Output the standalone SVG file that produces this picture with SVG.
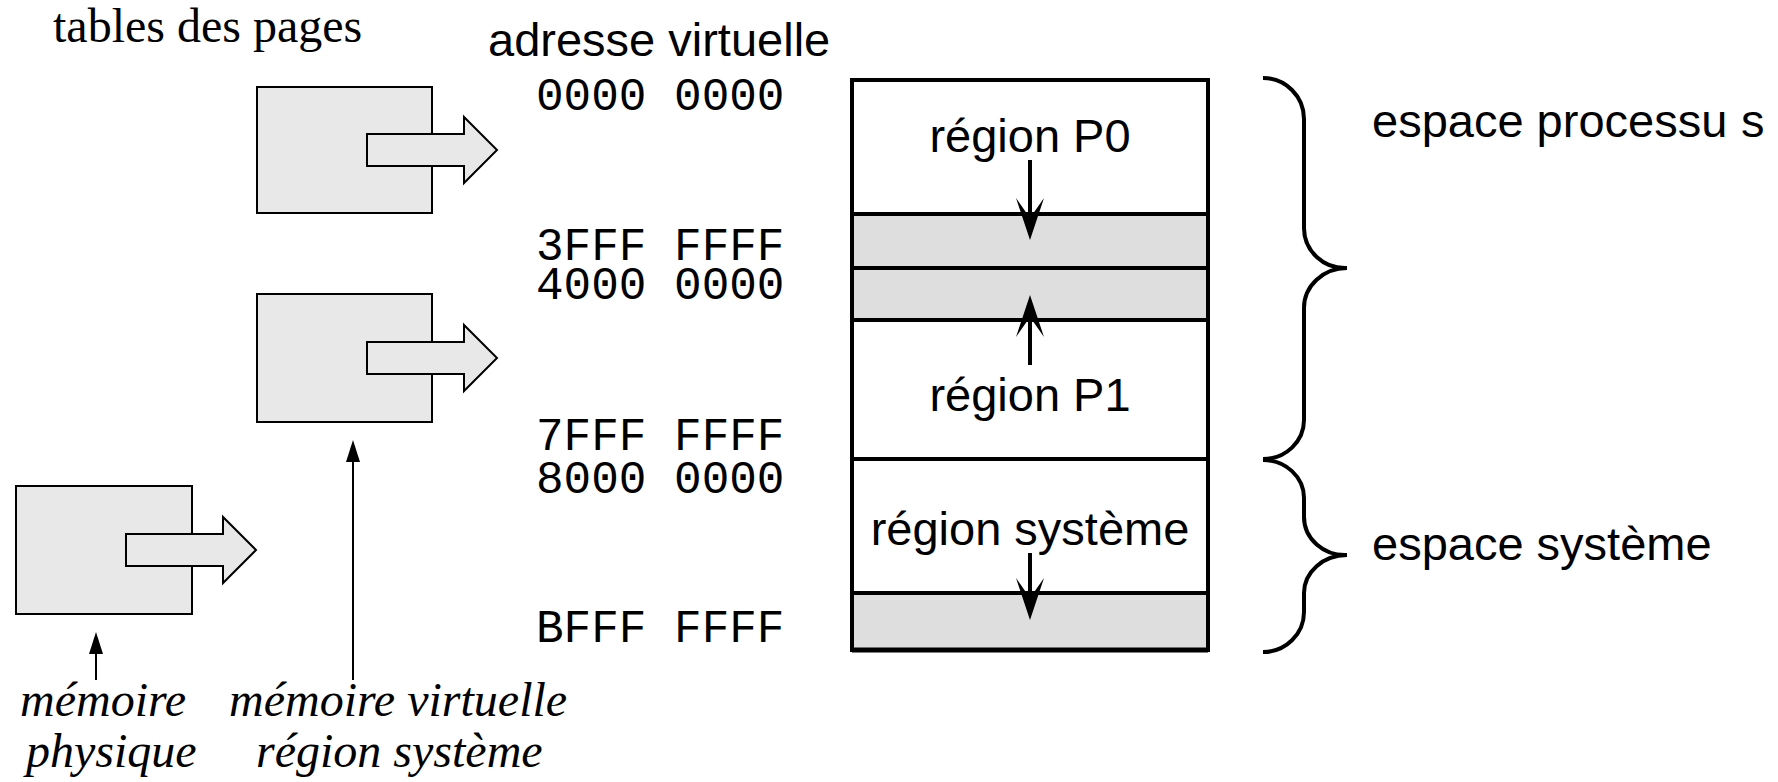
<svg xmlns="http://www.w3.org/2000/svg" width="1778" height="782" viewBox="0 0 1778 782">
  <style>
    .serif { font-family: "Liberation Serif", "Times New Roman", serif; font-size: 48px; fill: #000; }
    .ital { font-family: "Liberation Serif", "Times New Roman", serif; font-style: italic; font-size: 48px; fill: #000; }
    .sans { font-family: "Liberation Sans", Arial, sans-serif; font-size: 47px; fill: #000; }
    .mono { font-family: "Liberation Mono", "Courier New", monospace; font-size: 46px; fill: #000; }
    .table { fill: #e8e8e8; stroke: #000; stroke-width: 2; }
    .band { fill: #dedede; stroke: none; }
    .frame { fill: none; stroke: #000; stroke-width: 4; }
    .sep { stroke: #000; stroke-width: 4; }
    .grow { stroke: #000; stroke-width: 4; fill: none; }
    .ptr { stroke: #000; stroke-width: 2; fill: none; }
    .brace { fill: none; stroke: #000; stroke-width: 4; stroke-linecap: butt; }
  </style>
  <defs>
    <!-- barbed head for the growth arrows inside the address map -->
    <marker id="barb" viewBox="0 0 42 28" refX="20" refY="14" markerWidth="42" markerHeight="28" markerUnits="userSpaceOnUse" orient="auto">
      <path d="M0,0 L42,14 L0,28 L20,14 z" fill="#000"/>
    </marker>
    <!-- small solid head for the label pointers -->
    <marker id="tri" viewBox="0 0 22 14" refX="0" refY="7" markerWidth="22" markerHeight="14" markerUnits="userSpaceOnUse" orient="auto">
      <path d="M0,0 L22,7 L0,14 z" fill="#000"/>
    </marker>
  </defs>

  <rect width="1778" height="782" fill="#fff"/>

  <!-- headings -->
  <text class="serif" x="53" y="42">tables des pages</text>
  <text class="sans" x="488" y="56">adresse virtuelle</text>

  <!-- page tables -->
  <g id="table-p0">
    <rect class="table" x="257" y="87" width="175" height="126"/>
    <polygon class="table" points="367,134 464,134 464,117 497,150 464,183 464,166 367,166"/>
  </g>
  <g id="table-p1">
    <rect class="table" x="257" y="294" width="175" height="128"/>
    <polygon class="table" points="367,342 464,342 464,325 497,358 464,391 464,374 367,374"/>
  </g>
  <g id="table-system">
    <rect class="table" x="16" y="486" width="176" height="128"/>
    <polygon class="table" points="126,534 223,534 223,517 256,550 223,583 223,566 126,566"/>
  </g>

  <!-- address column -->
  <g id="addresses">
    <text class="mono" x="536" y="110">0000 0000</text>
    <text class="mono" x="536" y="260">3FFF FFFF</text>
    <text class="mono" x="536" y="299">4000 0000</text>
    <text class="mono" x="536" y="450">7FFF FFFF</text>
    <text class="mono" x="536" y="493">8000 0000</text>
    <text class="mono" x="536" y="642">BFFF FFFF</text>
  </g>

  <!-- virtual address space map -->
  <g id="address-map">
    <rect class="band" x="852" y="214" width="356" height="106"/>
    <rect class="band" x="852" y="593" width="356" height="57"/>
    <line class="sep" x1="852" y1="214" x2="1208" y2="214"/>
    <line class="sep" x1="852" y1="268" x2="1208" y2="268"/>
    <line class="sep" x1="852" y1="320" x2="1208" y2="320"/>
    <line class="sep" x1="852" y1="459" x2="1208" y2="459"/>
    <line class="sep" x1="852" y1="593" x2="1208" y2="593"/>
    <rect class="frame" x="852" y="80" width="356" height="570"/>
    <line x1="852" y1="650" x2="1208" y2="650" stroke="#000" stroke-width="5"/>
  </g>
  <g id="region-p0">
    <text class="sans" x="1030" y="152" text-anchor="middle">région P0</text>
  </g>
  <g id="region-p1">
    <text class="sans" x="1030" y="411" text-anchor="middle">région P1</text>
  </g>
  <g id="region-system">
    <text class="sans" x="1030" y="545" text-anchor="middle">région système</text>
  </g>

  <!-- space braces -->
  <g id="process-space">
    <path class="brace" d="M1263,78 A41,41 0 0 1 1304,119 L1304,228 A41,40 0 0 0 1347,268"/>
    <path class="brace" d="M1347,268 A43,40 0 0 0 1304,308 L1304,420 A41,39 0 0 1 1263,459"/>
    <text class="sans" x="1372" y="137">espace processu<tspan x="1741">s</tspan></text>
  </g>
  <g id="system-space">
    <path class="brace" d="M1263,460 A41,38 0 0 1 1304,498 L1304,517 A41,38 0 0 0 1347,555"/>
    <path class="brace" d="M1347,555 A43,38 0 0 0 1304,593 L1304,612 A41,40 0 0 1 1263,652"/>
    <text class="sans" x="1372" y="560">espace système</text>
  </g>

  <!-- bottom captions -->
  <g id="caption-physical">
    <text class="ital" x="20" y="716">mémoire</text>
    <text class="ital" x="26" y="767">physique</text>
  </g>
  <g id="caption-virtual">
    <text class="ital" x="229" y="716">mémoire virtuelle</text>
    <text class="ital" x="256" y="767">région système</text>
  </g>

  <!-- connectors -->
  <g id="connectors">
    <line class="grow" x1="1030" y1="160" x2="1030" y2="218" marker-end="url(#barb)"/>
    <line class="grow" x1="1030" y1="365" x2="1030" y2="317" marker-end="url(#barb)"/>
    <line class="grow" x1="1030" y1="553" x2="1030" y2="598" marker-end="url(#barb)"/>
    <line class="ptr" x1="353" y1="680" x2="353" y2="462" marker-end="url(#tri)"/>
    <line class="ptr" x1="96" y1="680" x2="96" y2="654" marker-end="url(#tri)"/>
  </g>
</svg>
